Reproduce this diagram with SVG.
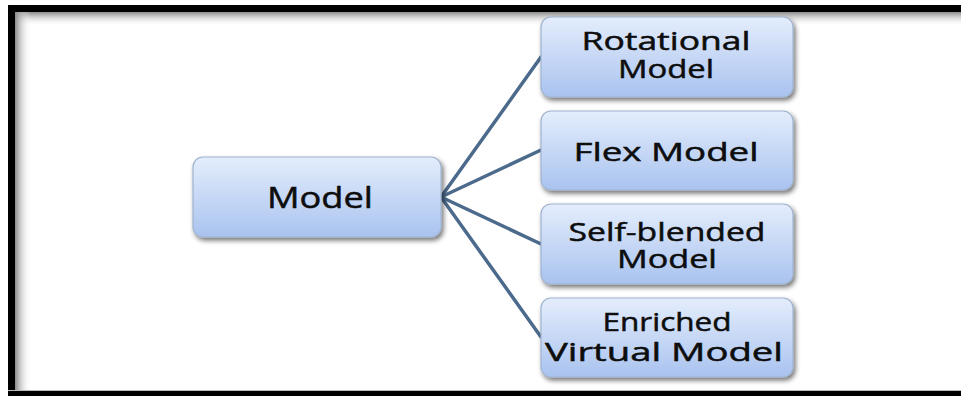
<svg xmlns="http://www.w3.org/2000/svg" width="961" height="396" viewBox="0 0 961 396">
<defs>
<style>
.box{fill:url(#bg);stroke:#9fb3cf;stroke-width:1.2;filter:url(#sh)}
.t{font-family:"Open Sans","Liberation Sans",sans-serif;fill:#0d0d0d;stroke:#0d0d0d;stroke-width:0.5;text-anchor:middle}
.r{font-size:26px}
.c{font-size:30px}
.ln{stroke:#4c6a8c;stroke-width:3.5;fill:none;stroke-linecap:round}
</style>
<linearGradient id="bg" x1="0" y1="0" x2="0" y2="1">
<stop offset="0" stop-color="#e4edfc"/>
<stop offset="1" stop-color="#a9c3ef"/>
</linearGradient>
<linearGradient id="gt" x1="0" y1="0" x2="0" y2="1">
<stop offset="0" stop-color="#8a8a8a"/>
<stop offset="1" stop-color="#ffffff" stop-opacity="0"/>
</linearGradient>
<linearGradient id="gl" x1="0" y1="0" x2="1" y2="0">
<stop offset="0" stop-color="#8a8a8a"/>
<stop offset="1" stop-color="#ffffff" stop-opacity="0"/>
</linearGradient>
<filter id="sh" x="-10%" y="-10%" width="130%" height="140%">
<feGaussianBlur in="SourceAlpha" stdDeviation="2.5"/>
<feOffset dx="2" dy="3" result="b"/>
<feComponentTransfer><feFuncA type="linear" slope="0.55"/></feComponentTransfer>
<feMerge><feMergeNode/><feMergeNode in="SourceGraphic"/></feMerge>
</filter>
</defs>
<rect width="961" height="396" fill="#fff"/>
<g id="frame">
<rect x="15" y="12" width="946" height="14" fill="url(#gt)"/>
<rect x="15" y="12" width="16" height="379" fill="url(#gl)"/>
<rect x="8" y="5" width="953" height="7" fill="#000"/>
<rect x="8" y="5" width="7" height="391" fill="#000"/>
<rect x="8" y="390" width="953" height="1" fill="#bbb"/>
<rect x="8" y="391" width="953" height="5" fill="#000"/>
</g>
<g id="connectors">
<line class="ln" x1="441" y1="197" x2="541" y2="57"/>
<line class="ln" x1="441" y1="197" x2="541" y2="150"/>
<line class="ln" x1="441" y1="197" x2="541" y2="244"/>
<line class="ln" x1="441" y1="197" x2="541" y2="337"/>
</g>
<g id="model">
<rect class="box" x="193" y="157" width="248" height="80" rx="10"/>
<text class="t c" x="320" y="208" textLength="106" lengthAdjust="spacingAndGlyphs">Model</text>
</g>
<g id="rotational">
<rect class="box" x="541" y="17" width="252" height="80" rx="10"/>
<text class="t r" x="666" y="50" textLength="169" lengthAdjust="spacingAndGlyphs">Rotational</text>
<text class="t r" x="666" y="78" textLength="96" lengthAdjust="spacingAndGlyphs">Model</text>
</g>
<g id="flex">
<rect class="box" x="541" y="111" width="252" height="79" rx="10"/>
<text class="t r" x="666" y="161" textLength="185" lengthAdjust="spacingAndGlyphs">Flex Model</text>
</g>
<g id="selfblended">
<rect class="box" x="541" y="204" width="252" height="80" rx="10"/>
<text class="t r" x="667" y="241" textLength="197" lengthAdjust="spacingAndGlyphs">Self-blended</text>
<text class="t r" x="667" y="268" textLength="100" lengthAdjust="spacingAndGlyphs">Model</text>
</g>
<g id="enriched">
<rect class="box" x="541" y="298" width="252" height="79" rx="10"/>
<text class="t r" x="667" y="331" textLength="129" lengthAdjust="spacingAndGlyphs">Enriched</text>
<text class="t r" x="664" y="361" textLength="238" lengthAdjust="spacingAndGlyphs">Virtual Model</text>
</g>
</svg>
